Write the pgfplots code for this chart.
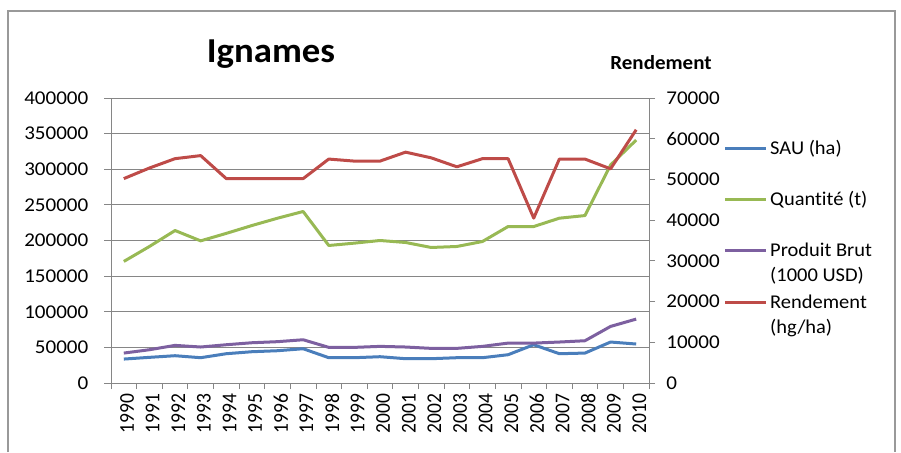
\documentclass[border=0pt]{standalone}
\usepackage{pgfplots}
\pgfplotsset{compat=1.18}
\usepackage{pgfplotstable}
\usepackage{fontspec}
\setmainfont{Carlito}[Ligatures=NoCommon]
\definecolor{cblue}{HTML}{4A7EBB}
\definecolor{cgreen}{HTML}{98B954}
\definecolor{cpurple}{HTML}{7D60A0}
\definecolor{cred}{HTML}{BE4B48}
\definecolor{cgrid}{HTML}{868686}
\pgfplotstableread{
year sau quant prod rend
1990 33600 170600 42000 50200
1991 36000 191600 46700 52800
1992 38300 214000 52800 55100
1993 35500 199500 50500 55850
1994 41100 210000 53700 50200
1995 43900 221000 56500 50200
1996 45300 231300 58000 50200
1997 48100 240700 60700 50200
1998 35500 193000 50000 55000
1999 35500 196300 50000 54500
2000 36900 200000 51400 54500
2001 34100 197200 50500 56700
2002 34100 190200 48600 55300
2003 35500 191600 48600 53100
2004 35500 198600 51400 55100
2005 39700 219600 56000 55100
2006 53700 219600 56000 40500
2007 41100 231300 57500 55000
2008 42000 235000 59300 55000
2009 57500 306000 79400 52600
2010 54700 341000 89700 62200
}\datatable
\newcommand{\tfont}{\fontsize{19.5}{20}\selectfont}
\begin{document}
\begin{tikzpicture}
\path[use as bounding box] (0pt,0pt) rectangle (901pt,452pt);
\draw[gray!80, line width=1.2pt] (8pt,0pt) -- (8pt,441pt) -- (895pt,441pt) -- (895pt,0pt);
\begin{axis}[
  at={(111pt,69pt)}, anchor=south west,
  scale only axis, width=538pt, height=285pt,
  xmin=1989.5, xmax=2010.5, ymin=0, ymax=400000,
  axis x line*=bottom, axis y line*=left,
  xtick={1990,...,2010}, minor xtick={1989.5,1990.5,...,2010.5},
  ytick={0,50000,...,400000},
  major x tick style={draw=none},
  tick align=outside, major tick length=7pt, minor tick length=6pt,
  ymajorgrids, grid style={cgrid, line width=0.8pt},
  axis line style={cgrid, line width=0.8pt},
  tick style={cgrid, line width=0.8pt},
  scaled ticks=false,
  /pgf/number format/fixed, /pgf/number format/precision=0,
  /pgf/number format/1000 sep={}, /pgf/number format/assume math mode=true,
  ticklabel style={font=\tfont, text=black},
  xticklabel style={xscale=1.08, rotate=90, anchor=east, yshift=-3pt},
  yticklabel style={xscale=1.08, xshift=-11pt},
  line join=round,
]
\addplot[cblue, line width=3pt, no marks] table[x=year, y=sau] {\datatable};
\addplot[cgreen, line width=3pt, no marks] table[x=year, y=quant] {\datatable};
\addplot[cpurple, line width=3pt, no marks] table[x=year, y=prod] {\datatable};
\end{axis}
\begin{axis}[
  at={(111pt,69pt)}, anchor=south west,
  scale only axis, width=538pt, height=285pt,
  xmin=1989.5, xmax=2010.5, ymin=0, ymax=70000,
  axis x line=none, axis y line*=right,
  ytick={0,10000,...,70000},
  tick align=outside, major tick length=6pt,
  axis line style={cgrid, line width=0.8pt},
  tick style={cgrid, line width=0.8pt},
  scaled ticks=false,
  /pgf/number format/fixed, /pgf/number format/precision=0,
  /pgf/number format/1000 sep={}, /pgf/number format/assume math mode=true,
  ticklabel style={font=\tfont, text=black},
  yticklabel style={xscale=1.08, xshift=7pt},
  line join=round,
]
\addplot[cred, line width=3pt, no marks] table[x=year, y=rend] {\datatable};
\end{axis}
\node[anchor=base, xscale=1.05, font=\fontsize{35}{35}\selectfont\bfseries] at (271pt,389pt) {Ignames};
\node[anchor=base, xscale=1.05, font=\fontsize{20}{20}\selectfont\bfseries] at (661pt,382pt) {Rendement};
% legend
\begin{scope}[line width=3pt]
\draw[cblue] (725pt,303.7pt) -- (766pt,303.7pt);
\draw[cgreen] (725pt,252.7pt) -- (766pt,252.7pt);
\draw[cpurple] (725pt,201.3pt) -- (766pt,201.3pt);
\draw[cred] (725pt,149.3pt) -- (766pt,149.3pt);
\end{scope}
\begin{scope}[every node/.style={anchor=base west, inner sep=0pt, xscale=1.05, font=\tfont}]
\node at (770pt,297.7pt) {SAU (ha)};
\node at (770pt,246.7pt) {Quantité (t)};
\node at (770pt,195.3pt) {Produit Brut};
\node at (770pt,170pt) {(1000 USD)};
\node at (770pt,143.3pt) {Rendement};
\node at (770pt,118pt) {(hg/ha)};
\end{scope}
\end{tikzpicture}
\end{document}
